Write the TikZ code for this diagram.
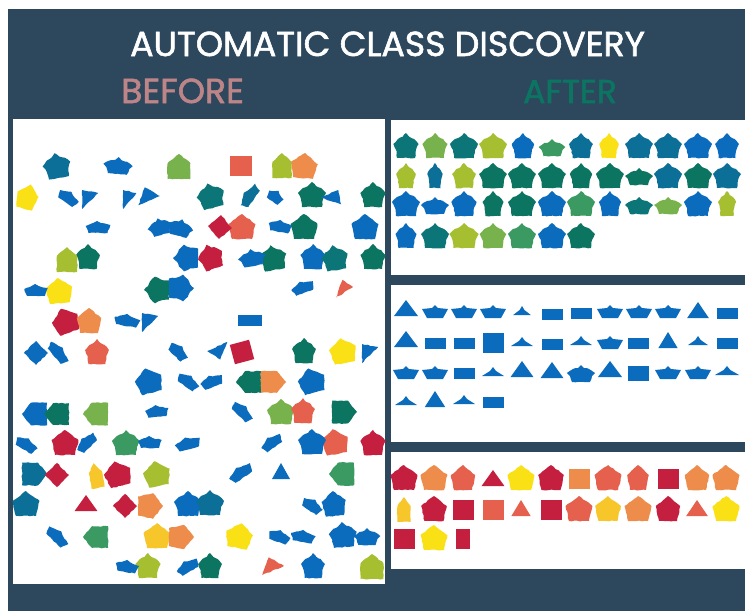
\documentclass[tikz,border=0pt]{standalone}
\usepackage{fontspec}
\newfontfamily\headfont[FakeBold=1.6]{Poppins}
\usetikzlibrary{decorations.pathmorphing}
\definecolor{slate}{HTML}{2D475D}
\definecolor{cblue}{HTML}{0B6CBE}
\definecolor{cteal}{HTML}{0B6F97}
\definecolor{cmid}{HTML}{0C7578}
\definecolor{cdgreen}{HTML}{0B7562}
\definecolor{cgreen}{HTML}{3A9A62}
\definecolor{clgreen}{HTML}{78B24C}
\definecolor{clime}{HTML}{A6BF30}
\definecolor{cyel}{HTML}{FAE116}
\definecolor{cgold}{HTML}{F7C62A}
\definecolor{corange}{HTML}{EE8C4C}
\definecolor{csalmon}{HTML}{E6604E}
\definecolor{cred}{HTML}{C51F3F}
\definecolor{cpink}{HTML}{BE8589}
\tikzset{
  rough/.style={decorate, decoration={random steps, segment length=3pt, amplitude=.5pt}},
  panel/.style={fill=white},
  headline/.style={inner sep=0pt, anchor=base west},
  pics/penta/.style={code={\fill[fill=#1, rough] (0,-14) -- (13.5,-4) -- (10,11) -- (-10,11) -- (-13.5,-4) -- cycle;}},
  pics/house/.style={code={\fill[fill=#1, rough] (0,-13) -- (12,-4) -- (12,12) -- (-12,12) -- (-12,-4) -- cycle;}},
  pics/crown/.style={code={\fill[fill=#1, rough] (0,-14) -- (4,-10) -- (9,-8) -- (14,-3) -- (11,3) -- (10,11) -- (-10,11) -- (-11,3) -- (-14,-3) -- (-9,-8) -- (-4,-10) -- cycle;}},
  pics/lowcrown/.style={code={\fill[fill=#1, rough] (0,-9) -- (3,-6) -- (8,-5) -- (14,-1) -- (11,2) -- (9,8) -- (-9,8) -- (-11,2) -- (-14,-1) -- (-8,-5) -- (-3,-6) -- cycle;}},
  pics/ship/.style={code={\fill[fill=#1] (0,-7) -- (3,-4) -- (13,-3) -- (8,6) -- (-8,6) -- (-13,-3) -- (-3,-4) -- cycle;}},
  pics/sliver/.style={code={\fill[fill=#1, rough] (-13,-2) -- (-5,-5) -- (-1,-7) -- (3,-5) -- (13,-3) -- (10,5) -- (-10,5) -- cycle;}},
  pics/wedge/.style={code={\fill[fill=#1, rough] (-7,-8) -- (12,-5) -- (-7,11) -- cycle;}},
  pics/tri/.style={code={\fill[fill=#1] (0,-10) -- (12,6) -- (-12,6) -- cycle;}},
  pics/lowtri/.style={code={\fill[fill=#1] (0,-6) -- (3,-2) -- (11,3) -- (-11,3) -- (-3,-2) -- cycle;}},
  pics/box/.style={code={\fill[fill=#1] (-10.5,-10) rectangle (10.5,10);}},
  pics/smallbox/.style={code={\fill[fill=#1, rough] (-8.5,-8.5) rectangle (8.5,8.5);}},
  pics/bar/.style={code={\fill[fill=#1] (-10.5,-5.5) rectangle (10.5,5.5);}},
  pics/tallbar/.style={code={\fill[fill=#1] (-10.5,-7.5) rectangle (10.5,7.5);}},
}
\newcommand{\items}[2]{\foreach \x/\y/\r/\s/\col in {#2} \pic[rotate=\r, xscale=\s] at (\x,\y) {#1=\col};}
\begin{document}
\begin{tikzpicture}[x=1pt, y=-1pt]
  \useasboundingbox (0,0) rectangle (745,611);
  \fill[slate] (8,9) rectangle (745,611);
  \fill[panel] (13,119) rectangle (385,584);
  \fill[panel] (391,120) rectangle (745,275);
  \fill[panel] (391,285) rectangle (745,442);
  \fill[panel] (391,452) rectangle (745,569);
  % headings
  \node[headline, white, font=\headfont\fontsize{34.7}{36}\selectfont] (title) at (130,56) {AUTOMATIC CLASS DISCOVERY};
  \node[headline, text=cpink, font=\headfont\fontsize{34.7}{36}\selectfont] (before) at (121,103) {BEFORE};
  \node[headline, text=cdgreen, font=\headfont\fontsize{33}{36}\selectfont] (after) at (523,103) {AFTER};
  % before: scattered shapes
  \items{penta}{27/198/-15/.8/cyel, 304/167/-5/1/corange, 365/228/0/1/cblue, 242/228/0/1/csalmon, 304/228/0/1/cdgreen,
    59/292/5/1/cyel, 66/322/20/1/cred, 89/322/0/.9/corange, 343/352/10/1/cyel, 149/382/15/1/cblue, 312/382/15/1/cblue,
    65/444/0/1/cred, 335/443/10/1/csalmon, 118/475/15/1/cred, 157/475/10/1/clime,
    26/505/0/1/cteal, 149/506/-90/.95/corange, 334/505/5/.9/cblue, 157/537/0/1/cgold, 239/537/-10/1/cyel, 180/537/-90/.9/corange}
  \items{crown}{57/167/10/1/cteal, 211/197/15/1/cmid, 312/196/0/1/cdgreen, 373/196/0/.9/cdgreen, 88/258/0/.85/cdgreen,
    187/258/90/.95/cblue, 211/258/20/.9/cred, 273/259/10/1/cdgreen, 313/258/0/.9/cblue, 335/259/10/.95/cmid, 373/258/0/.9/cdgreen,
    158/290/90/.95/cdgreen, 180/288/-90/.95/cblue, 97/353/0/.85/csalmon, 304/352/0/.85/cdgreen, 281/413/0/1/clgreen,
    303/412/0/.85/csalmon, 312/443/0/1/cblue, 373/444/0/.9/cred, 126/444/0/1/cgreen, 188/505/0/1/cblue, 210/504/0/1/cteal,
    343/536/5/1/cblue, 210/567/0/.85/cdgreen, 313/567/0/.85/cblue, 148/567/0/.9/clime}
  \items{house}{179/167/0/.95/clgreen, 282/166/0/.8/clime, 67/260/0/.85/clime, 96/414/90/.95/clgreen, 35/414/90/.95/cblue,
    57/414/90/.9/cdgreen, 249/382/90/.9/cdgreen, 273/382/-90/.9/corange, 342/474/90/.95/cgreen, 96/537/90/.9/cgreen,
    372/567/0/.95/clime, 34/474/-90/.95/cteal, 96/476/10/.55/cgold, 344/412/-90/.95/cdgreen}
  \items{lowcrown}{118/166/-5/1.05/cblue, 160/227/15/.9/cblue, 180/228/-15/.95/cblue, 252/258/10/1/cblue, 367/537/0/.95/cblue}
  \items{sliver}{68/198/-35/.85/cblue, 275/197/-35/.65/cblue, 98/228/0/.95/cblue, 280/227/-10/.9/cblue, 303/288/20/.9/cblue,
    127/321/-10/1/cblue, 58/353/-50/1/cblue, 178/352/-45/.85/cblue, 188/382/-35/.9/cblue, 212/382/20/.9/cblue, 157/412/5/.9/cblue,
    242/412/-45/.95/cblue, 26/445/-30/.9/cblue, 87/443/45/.9/cblue, 150/443/0/.9/cblue, 188/444/15/1/cblue, 272/443/35/.9/cblue,
    241/473/35/1/cblue, 57/537/-45/1/cblue, 279/537/-20/.85/cblue, 303/537/-10/.95/cblue, 127/567/-10/.9/cblue, 36/291/0/.9/cblue,
    250/196/55/1/cteal, 312/506/-35/.85/cblue, 188/567/30/.9/cblue}
  \items{wedge}{88/198/0/.85/cblue, 128/198/0/.7/cblue, 148/197/-20/.9/cblue, 333/198/-67/.75/cblue, 148/321/0/.85/cblue,
    218/350/158/.8/cblue, 368/352/0/.85/cblue, 272/567/-20/.9/csalmon, 344/289/-20/.65/csalmon}
  \items{box}{241/166/0/1.05/csalmon, 242/352/15/.95/cred}
  \items{smallbox}{220/227/40/1/cred, 36/353/45/1/cblue, 57/475/45/1/cred, 125/506/45/1/cred}
  \items{tri}{281/473/0/.75/cblue, 86/505/0/.95/cred}
  \items{bar}{250/320/0/1.1/cblue}
  % after: top panel
  \items{crown}{406/147/0/.9/cmid, 435/147/0/.9/clgreen, 464/147/0/1/cmid, 493/147/0/1/clime, 523/147/0/.8/cblue,
    581/147/0/.85/cteal, 609/147/0/.7/cyel, 639/147/0/1/cteal, 668/147/0/1/cteal, 698/147/0/1/cblue, 727/147/0/.85/cblue,
    406/177/0/.7/clime, 435/177/0/.55/cteal, 464/177/0/.85/clime, 493/177/0/1/cdgreen, 522/177/0/1/cdgreen, 552/177/0/1/cdgreen,
    581/177/0/.8/cdgreen, 610/177/0/1/cdgreen, 668/177/0/1/cteal, 698/177/0/1/cdgreen, 727/177/0/1/cteal,
    406/205/0/1/cblue, 464/205/0/.9/cblue, 493/205/0/.75/cdgreen, 522/205/0/1/cdgreen, 552/205/0/1/cblue, 581/205/0/1/cgreen,
    610/205/0/.8/cblue, 698/205/0/1/cblue, 727/205/0/.65/clime,
    406/237/0/.75/cblue, 435/237/0/1/cmid, 464/237/0/1.05/clime, 493/237/0/.95/clgreen, 522/237/0/1/cgreen, 552/237/0/1/cblue,
    581/237/0/1/cdgreen}
  \items{lowcrown}{552/148/0/.95/cgreen, 639/177/0/1/cdgreen, 435/206/0/1/cblue, 639/206/0/1/cmid, 668/206/0/1/clgreen}
  % after: middle panel
  \items{tri}{406/310/0/1/cblue, 698/312/0/.9/cblue, 406/341/0/1/cblue, 668/342/0/.8/cblue,
    522/371/0/.95/cblue, 552/372/0/.95/cblue, 610/371/0/1/cblue, 435/401/0/.85/cblue}
  \items{ship}{435/312/0/1/cblue, 464/312/0/1/cblue, 493/312/0/1/cblue, 610/312/0/1/cblue, 639/312/0/1/cblue, 668/312/0/1/cblue,
    610/343/0/1/cblue, 406/373/0/1/cblue, 435/373/0/1/cblue, 668/373/0/1/cblue, 698/373/0/1/cblue}
  \items{lowcrown}{581/374/0/1/cblue}
  \items{lowtri}{522/312/0/.8/cblue, 522/343/0/1/cblue, 581/342/0/1/cblue, 698/342/0/.9/cblue, 493/373/0/1/cblue, 727/372/0/1.1/cblue,
    406/402/0/1/cblue, 464/401/0/1/cblue}
  \items{bar}{552/314/0/1/cblue, 581/313/0/1/cblue, 727/313/0/1/cblue, 435/343/0/1/cblue, 464/343/0/1/cblue, 552/344/0/1/cblue,
    638/343/0/1/cblue, 727/343/0/1/cblue, 464/373/0/1/cblue, 493/402/0/1/cblue}
  \items{box}{493/343/0/1/cblue}
  \items{tallbar}{638/373/0/1/cblue}
  % after: bottom panel
  \items{penta}{404/479/0/1/cred, 434/479/0/1/corange, 463/479/0/.9/csalmon, 521/479/0/1/cyel, 551/479/0/.95/cred, 608/479/0/1/csalmon,
    638/479/0/.8/csalmon, 697/479/0/.9/corange, 726/479/0/1/corange,
    434/510/0/.95/cred, 579/510/0/1/csalmon, 608/510/0/.95/cgold, 638/510/0/1/corange, 668/510/0/.9/cred, 726/510/0/1/cyel,
    434/539/0/1/cyel}
  \items{house}{404/510/0/.55/cgold}
  \items{tri}{493/480/0/.95/cred, 521/510/0/.8/csalmon, 697/510/0/.9/csalmon}
  \items{box}{579/479/0/1/corange, 668/479/0/1/cred, 463/510/0/1/cred, 493/510/0/1/csalmon, 551/510/0/1/cred, 404/539/0/1/cred, 463/539/0/.65/cred}
\end{tikzpicture}
\end{document}
